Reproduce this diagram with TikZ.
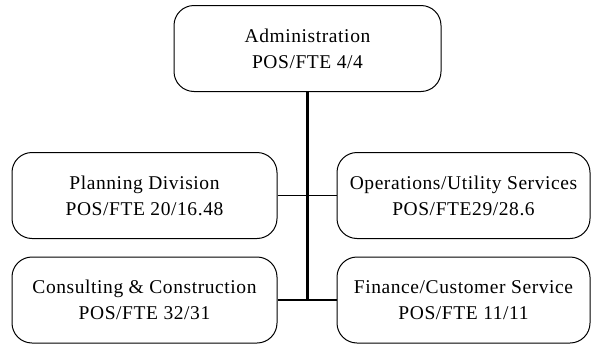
\documentclass[tikz,border=0pt]{standalone}
\usepackage{fontspec}
\setmainfont{Liberation Serif}
\newfontfamily\unitfont[LetterSpace=3]{Liberation Serif}
\begin{document}
\begin{tikzpicture}[x = 1pt, y = -1pt,
		unit/.style = {draw, line width = 1pt, rounded corners = 20pt, align = center,
			inner sep = 0pt, minimum height = 86pt,
			font = \unitfont\fontsize{19.5}{26}\selectfont},
		trunk/.style = {line width = 2.6pt},
		branch/.style = {line width = 1.8pt}]
		\useasboundingbox (0, 0) rectangle (592, 343);
		% boxes
		\node[unit, minimum width = 267pt] (admin) at (307.5, 48.5) {Administration\\POS/FTE 4/4};
		\node[unit, minimum width = 265pt] (plan) at (144.5, 195.5) {Planning Division\\POS/FTE 20/16.48};
		\node[unit, minimum width = 253pt] (ops) at (463.5, 195.5) {Operations/Utility Services\\POS/FTE29/28.6};
		\node[unit, minimum width = 265pt] (cons) at (144.5, 300) {Consulting \& Construction\\POS/FTE 32/31};
		\node[unit, minimum width = 253pt] (fin) at (463.5, 300) {Finance/Customer Service\\POS/FTE 11/11};
		% lines
		\draw[branch] (plan.east) -- (ops.west);
		\draw[branch] (cons.east) -- (fin.west);
		\draw[trunk] (admin.south) -- (admin.south |- cons.east);
	\end{tikzpicture}
\end{document}
